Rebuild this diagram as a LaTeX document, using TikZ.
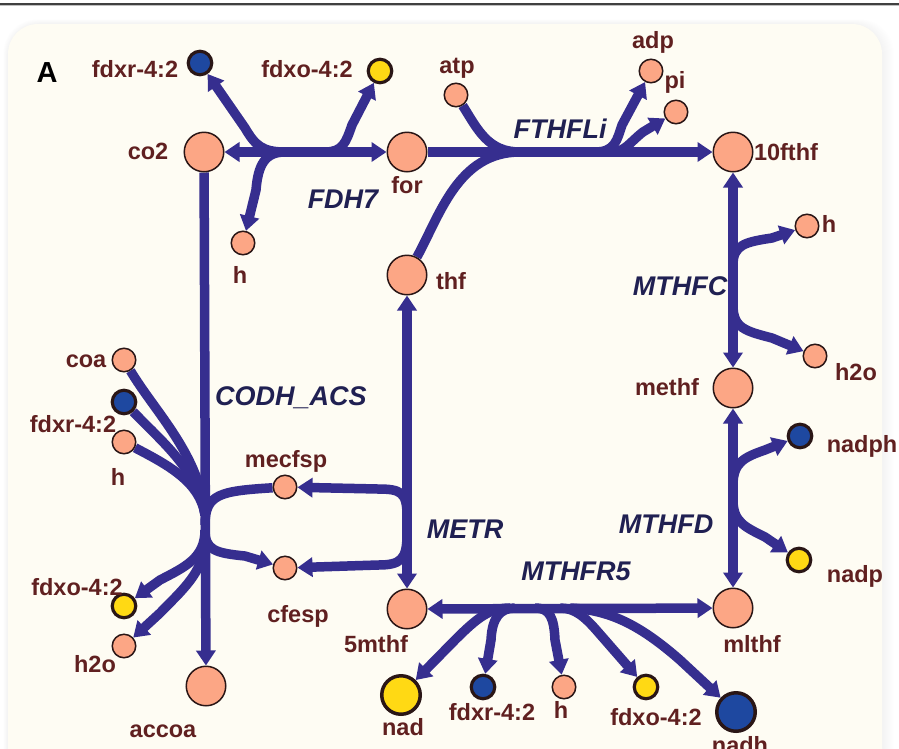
\documentclass[tikz,border=0pt]{standalone}
\usepackage{fontspec}
\setmainfont{Liberation Sans}
\usetikzlibrary{arrows.meta}
\pgfdeclarelayer{bg}
\pgfdeclarelayer{edges}
\pgfsetlayers{bg,edges,main}
\definecolor{panel}{RGB}{254,252,243}
\definecolor{edgec}{RGB}{54,46,143}
\definecolor{salmon}{RGB}{252,166,133}
\definecolor{mblue}{RGB}{30,72,160}
\definecolor{myellow}{RGB}{255,217,20}
\definecolor{outl}{RGB}{42,22,22}
\definecolor{labc}{RGB}{96,32,32}
\definecolor{rxnc}{RGB}{32,32,82}
\newcommand\labfont{\fontsize{23.5}{28}\selectfont\bfseries}
\newcommand\rxnfont{\fontsize{27}{32}\selectfont\bfseries\itshape}
\tikzset{
  met/.style={circle, draw=outl, inner sep=0pt, line width=1.5pt, fill=salmon},
  bigm/.style={met, minimum size=39.5pt},
  smallm/.style={met, minimum size=23.5pt},
  bluem/.style={met, minimum size=23.5pt, fill=mblue, line width=3.2pt},
  yelm/.style={met, minimum size=23.5pt, fill=myellow, line width=3.2pt},
  bigyel/.style={met, minimum size=38.5pt, fill=myellow, line width=3.5pt},
  bigblue/.style={met, minimum size=38.5pt, fill=mblue, line width=3.5pt},
  lab/.style={font=\labfont, text=labc, anchor=base, inner sep=0pt},
  rxn/.style={font=\rxnfont, text=rxnc, anchor=base, inner sep=0pt},
  rx/.style={draw=edgec, line width=9.5pt, line join=round},
  arr/.style={arrows={-Triangle[length=15pt,width=19pt]}},
  biarr/.style={arrows={Triangle[length=15pt,width=19pt]-Triangle[length=15pt,width=19pt]}},
}
\begin{document}
\begin{tikzpicture}[x=1pt,y=-1pt]
\useasboundingbox (0,0) rectangle (899,748);
\begin{pgfonlayer}{bg}
\fill[white] (0,0) rectangle (899,748);
\foreach \i in {1,...,12}{
  \fill[black, opacity=0.005, rounded corners=34pt] (8-0.4*\i,24-0.4*\i) rectangle (882+\i,800);}
\foreach \i/\c in {8/30,6/45,4/60,2/80,0/100}{
  \fill[panel!\c!white, rounded corners=30pt] (8+\i,24+\i) rectangle (882-\i,800);}
\draw[line width=1.5pt, black!75] (0,4) -- (899,4);
\draw[line width=0.8pt, black!25] (0,5.5) -- (899,5.5);
\end{pgfonlayer}

% metabolites
\node[bigm] (co2) at (204,152) {};
\node[bigm] (for) at (407,152) {};
\node[bigm] (fthf) at (733,152) {};
\node[bigm] (thf) at (407,275) {};
\node[bigm] (methf) at (733,388) {};
\node[bigm] (mlthf) at (733,608) {};
\node[bigm] (mthf) at (407,609) {};
\node[bigm] (accoa) at (206,686) {};
\node[bluem] (fdxrT) at (200,63) {};
\node[yelm] (fdxoT) at (380,71) {};
\node[smallm] (hT) at (243,243) {};
\node[smallm] (atp) at (456,95) {};
\node[smallm] (adp) at (651,71) {};
\node[smallm] (pi) at (676,112) {};
\node[smallm] (hR) at (807,226) {};
\node[smallm] (h2oR) at (815,356) {};
\node[bluem] (nadph) at (800,436) {};
\node[yelm] (nadp) at (799,560) {};
\node[bigyel] (nad) at (401,695) {};
\node[bluem] (fdxrB) at (483,687) {};
\node[smallm] (hB) at (564,687) {};
\node[yelm] (fdxoB) at (646,687) {};
\node[bigblue] (nadh) at (736,712) {};
\node[smallm] (coa) at (124,360) {};
\node[bluem] (fdxrL) at (124,402) {};
\node[smallm] (hL) at (124,442) {};
\node[smallm] (mecfsp) at (285,487) {};
\node[smallm] (cfesp) at (285,568) {};
\node[yelm] (fdxoL) at (124,606) {};
\node[smallm] (h2oL) at (124,646) {};

% hub coordinates
\coordinate (f7a) at (285,152);
\coordinate (f7b) at (325,152);
\coordinate (fta) at (520,152);
\coordinate (ftb) at (595,152);
\coordinate (ftc) at (612,152);
\coordinate (mca) at (733,265);
\coordinate (mcb) at (733,305);
\coordinate (mda) at (733,485);
\coordinate (mdb) at (733,500);
\coordinate (mta) at (407,515);
\coordinate (mtb) at (407,535);
\coordinate (cda) at (205,515);
\coordinate (cdb) at (205,525);
\coordinate (cdc) at (205,530);
\coordinate (cdd) at (205,540);
\coordinate (mra) at (510,608);
\coordinate (mrb) at (515,608);
\coordinate (mrc) at (535,608);
\coordinate (mrd) at (560,608);
\coordinate (mre) at (570,608);

\begin{pgfonlayer}{edges}
% FDH7
\draw[rx,biarr] (co2) -- (for);
\draw[rx,arr] (f7a) .. controls (262,152) and (255,145) .. (245,128) -- (fdxrT);
\draw[rx,arr] (f7a) .. controls (265,152) and (258,165) .. (256,190) -- (hT);
\draw[rx,arr] (f7b) .. controls (343,152) and (346,142) .. (352,125) -- (fdxoT);
% FTHFLi
\draw[rx,arr] (for) -- (fthf);
\draw[rx] (atp) .. controls (478,130) and (488,152) .. (fta);
\draw[rx] (thf) .. controls (440,215) and (458,152) .. (fta);
\draw[rx,arr] (ftb) .. controls (615,152) and (617,140) .. (622,125) -- (adp);
\draw[rx,arr] (ftc) .. controls (625,152) and (630,142) .. (643,132) -- (pi);
% MTHFC
\draw[rx,biarr] (fthf) -- (methf);
\draw[rx,arr] (mca) .. controls (733,245) and (745,242) .. (772,238) -- (hR);
\draw[rx,arr] (mcb) .. controls (733,328) and (745,331) .. (772,338) -- (h2oR);
% MTHFD
\draw[rx,biarr] (methf) -- (mlthf);
\draw[rx,arr] (mda) .. controls (733,462) and (745,457) .. (765,450) -- (nadph);
\draw[rx,arr] (mdb) .. controls (733,522) and (745,527) .. (765,537) -- (nadp);
% METR
\draw[rx,biarr] (mthf) -- (thf);
\draw[rx,arr] (mta) .. controls (407,492) and (400,489) .. (378,489) -- (mecfsp);
\draw[rx,arr] (mtb) .. controls (407,560) and (400,565) .. (378,565) -- (cfesp);
% CODH_ACS
\draw[rx,arr] (co2) -- (accoa);
\draw[rx] (coa) .. controls (155,412) and (200,455) .. (cda);
\draw[rx] (fdxrL) .. controls (160,440) and (198,470) .. (cda);
\draw[rx] (hL) .. controls (168,465) and (200,482) .. (cda);
\draw[rx] (mecfsp) .. controls (220,491) and (205,494) .. (cdb);
\draw[rx,arr] (cdc) .. controls (205,550) and (215,553) .. (245,556) -- (cfesp);
\draw[rx,arr] (cdc) .. controls (205,558) and (185,567) .. (160,580) -- (fdxoL);
\draw[rx,arr] (cdd) .. controls (205,572) and (180,592) .. (160,613) -- (h2oL);
% MTHFR5
\draw[rx,biarr] (mthf) -- (mlthf);
\draw[rx,arr] (mra) .. controls (490,608) and (478,617) .. (455,640) -- (nad);
\draw[rx,arr] (mrb) .. controls (500,608) and (492,618) .. (491,640) -- (fdxrB);
\draw[rx,arr] (mrc) .. controls (550,608) and (554,618) .. (555,640) -- (hB);
\draw[rx,arr] (mrd) .. controls (575,608) and (585,617) .. (598,632) -- (fdxoB);
\draw[rx,arr] (mre) .. controls (610,610) and (640,625) .. (680,660) -- (nadh);
\end{pgfonlayer}

% panel letter
\node[font=\fontsize{29}{34}\selectfont\bfseries, anchor=base, inner sep=0pt] (panelA) at (47,82) {A};

% metabolite labels
\node[lab] (fdxrT-l) at (135,77) {fdxr-4:2};
\node[lab] (fdxoT-l) at (307,77) {fdxo-4:2};
\node[lab] (co2-l) at (148,159) {co2};
\node[lab] (for-l) at (407,193) {for};
\node[lab] (hT-l) at (240,283) {h};
\node[lab] (thf-l) at (451,289) {thf};
\node[lab] (atp-l) at (457,73) {atp};
\node[lab] (adp-l) at (653,48) {adp};
\node[lab] (pi-l) at (675,88) {pi};
\node[lab] (fthf-l) at (786,160) {10fthf};
\node[lab] (hR-l) at (829,232) {h};
\node[lab] (h2oR-l) at (856,380) {h2o};
\node[lab] (methf-l) at (667,395) {methf};
\node[lab] (nadph-l) at (862,452) {nadph};
\node[lab] (nadp-l) at (855,582) {nadp};
\node[lab] (mlthf-l) at (752,652) {mlthf};
\node[lab] (fdxrB-l) at (492,720) {fdxr-4:2};
\node[lab] (hB-l) at (561,718) {h};
\node[lab] (fdxoB-l) at (656,725) {fdxo-4:2};
\node[lab] (nadh-l) at (740,753) {nadh};
\node[lab] (nad-l) at (403,735) {nad};
\node[lab] (mthf-l) at (376,652) {5mthf};
\node[lab] (coa-l) at (86,367) {coa};
\node[lab] (fdxrL-l) at (73,432) {fdxr-4:2};
\node[lab] (hL-l) at (118,485) {h};
\node[lab] (mecfsp-l) at (286,467) {mecfsp};
\node[lab] (fdxoL-l) at (77,595) {fdxo-4:2};
\node[lab] (cfesp-l) at (298,622) {cfesp};
\node[lab] (h2oL-l) at (95,672) {h2o};
\node[lab] (accoa-l) at (163,737) {accoa};

% reaction labels
\node[rxn] (FDH7) at (343,208) {FDH7};
\node[rxn] (FTHFLi) at (560,138) {FTHFLi};
\node[rxn] (MTHFC) at (680,295) {MTHFC};
\node[rxn] (MTHFD) at (666,533) {MTHFD};
\node[rxn] (MTHFR5) at (576,580) {MTHFR5};
\node[rxn] (METR) at (465,538) {METR};
\node[rxn] (CODH) at (291,405) {CODH\_ACS};
\end{tikzpicture}
\end{document}
